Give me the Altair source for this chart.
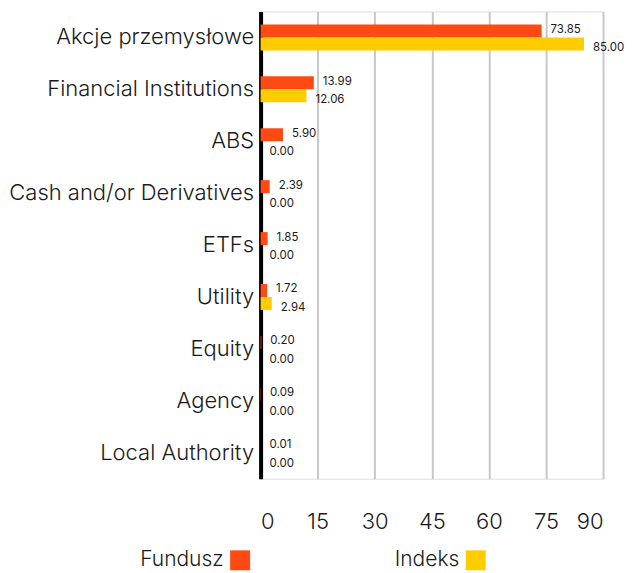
import altair as alt
import pandas as pd

categories = ["Akcje przemysłowe", "Financial Institutions", "ABS", "Cash and/or Derivatives",
              "ETFs", "Utility", "Equity", "Agency", "Local Authority"]
fundusz = [73.85, 13.99, 5.90, 2.39, 1.85, 1.72, 0.20, 0.09, 0.01]
indeks = [85.00, 12.06, 0.00, 0.00, 0.00, 2.94, 0.00, 0.00, 0.00]
series = ["Fundusz", "Indeks"]
colors = ["#FF4A14", "#FFCC00"]
x_ticks = [0, 15, 30, 45, 60, 75, 90]

rows = []
for c, f, i in zip(categories, fundusz, indeks):
    rows.append({"cat": c, "series": series[0], "value": f})
    rows.append({"cat": c, "series": series[1], "value": i})
df = pd.DataFrame(rows)

FONT = "Inter"

y_enc = alt.Y("cat:N", sort=categories, title=None,
              scale=alt.Scale(paddingInner=0.5, paddingOuter=0.25),
              axis=alt.Axis(domainColor="#000000", domainWidth=4, ticks=False,
                            labelFontSize=22, labelColor="#1a1a1a", labelPadding=7,
                            labelFont=FONT, labelLimit=400, labelFontWeight=300))
x_enc = alt.X("value:Q", title=None,
              scale=alt.Scale(domain=[0, 90], nice=False),
              axis=alt.Axis(values=x_ticks, domain=False, ticks=False, labelFontSize=22,
                            labelColor="#1a1a1a", labelPadding=33, labelFont=FONT,
                            labelFontWeight=300, gridColor="#c8c8c8", gridWidth=2))
yoff = alt.YOffset("series:N", sort=series, scale=alt.Scale(domain=series))

base = alt.Chart(df)

bars = base.mark_bar().encode(
    y=y_enc, x=x_enc, yOffset=yoff,
    color=alt.Color("series:N", scale=alt.Scale(domain=series, range=colors), title=None,
                    legend=alt.Legend(orient="none", legendX=-31, legendY=539,
                                      direction="horizontal", symbolType="square",
                                      symbolSize=400, symbolStrokeWidth=0,
                                      labelAlign="right", labelOffset={"expr": "-27"},
                                      labelFontSize=21, labelFont=FONT, labelColor="#1a1a1a",
                                      labelFontWeight=300,
                                      columnPadding=144, labelLimit=200)),
)

txt_f = base.transform_filter(alt.datum.series == series[0]).mark_text(
    align="left", baseline="middle", dx=9, dy=-1, fontSize=11.5, font=FONT, color="#1a1a1a"
).encode(y=alt.Y("cat:N", sort=categories), x="value:Q", yOffset=yoff,
         text=alt.Text("value:Q", format=".2f"))

txt_i = base.transform_filter(alt.datum.series == series[1]).mark_text(
    align="left", baseline="middle", dx=9, dy=4.5, fontSize=11.5, font=FONT, color="#1a1a1a"
).encode(y=alt.Y("cat:N", sort=categories), x="value:Q", yOffset=yoff,
         text=alt.Text("value:Q", format=".2f"))

chart = alt.layer(bars, txt_f, txt_i).properties(
    width=343, height=468,
    padding={"left": 0, "top": 3, "right": 0, "bottom": 0},
).configure_view(stroke=None).configure(font=FONT)

chart.save("out.html", embed_options={"renderer": "svg", "actions": False})
